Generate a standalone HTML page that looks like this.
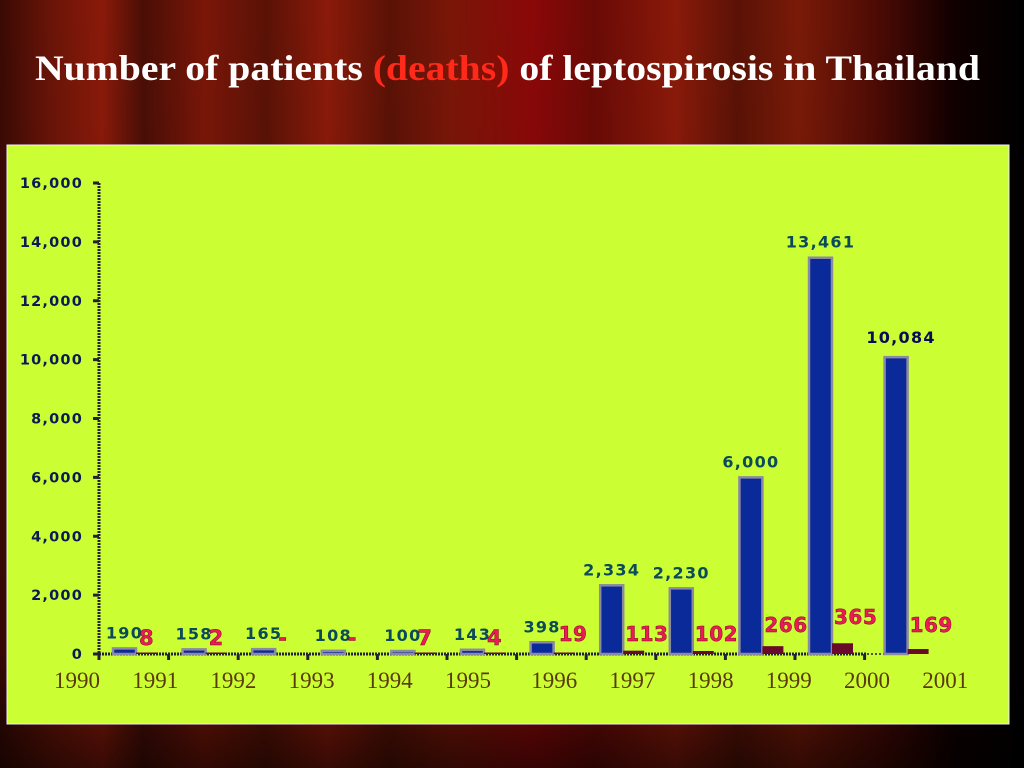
<!DOCTYPE html>
<html><head><meta charset="utf-8"><style>
html,body{margin:0;padding:0;width:1024px;height:768px;overflow:hidden;}
body{background:linear-gradient(90deg,#3a0a04 0%,#6a1408 5%,#8a1a0a 10%,#4a0e06 14%,#7a1608 20%,#5a1206 26%,#8a1a0a 32%,#5a1206 38%,#7a1608 44%,#8a0808 52%,#6a0a06 58%,#8a1a0a 66%,#5a1206 72%,#7a1a08 78%,#4a0a04 86%,#100 93%,#000 100%);font-family:"Liberation Serif",serif;}
</style></head><body>
<svg width="1024" height="768" xmlns="http://www.w3.org/2000/svg">
<defs>
<linearGradient id="bg" x1="0" y1="0" x2="0" y2="1">
<stop offset="0" stop-color="#000" stop-opacity="0"/><stop offset="0.85" stop-color="#000" stop-opacity="0.1"/><stop offset="1" stop-color="#000" stop-opacity="0.6"/>
</linearGradient>
</defs>
<rect x="0" y="0" width="1024" height="768" fill="url(#bg)"/>
<text x="35" y="80" textLength="945" lengthAdjust="spacingAndGlyphs" font-family="Liberation Serif,serif" font-weight="bold" font-size="36" fill="#fff">Number of patients <tspan fill="#ff2a1a">(deaths)</tspan> of leptospirosis in Thailand</text>
<rect x="7" y="145" width="1002" height="579" fill="#ccff33" stroke="#eef" stroke-width="1"/>
<g id="axes"></g>
<g id="marks"></g>
</svg>
<script>
const years=["1990","1991","1992","1993","1994","1995","1996","1997","1998","1999","2000","2001"];
const patients=[190,158,165,108,100,143,398,2334,2230,6000,13461,10084];
const patientLabels=["190","158","165","108","100","143","398","2,334","2,230","6,000","13,461","10,084"];
const deaths=[8,2,0,0,7,4,19,113,102,266,365,169];
const deathLabels=["8","2","-","-","7","4","19","113","102","266","365","169"];
const yTicks=[0,2000,4000,6000,8000,10000,12000,14000,16000];
const yTickLabels=["0","2,000","4,000","6,000","8,000","10,000","12,000","14,000","16,000"];

const NS="http://www.w3.org/2000/svg";
const y0=654,yTop=183,yMax=16000;
const yScale=v=>y0-(v/yMax)*(y0-yTop);
const xAxisStart=99,step=69.6;
const xGroup=i=>xAxisStart+step*i;
const yearX=i=>77+78.2*i;
function mk(tag,attrs,parent){const e=document.createElementNS(NS,tag);for(const k in attrs)e.setAttribute(k,attrs[k]);parent.appendChild(e);return e;}
const axes=document.getElementById('axes'),marks=document.getElementById('marks');

let yl=mk('line',{x1:99,y1:yTop,x2:99,y2:y0,stroke:'#223',"stroke-width":3,"stroke-dasharray":"2 1"},axes);


let xl=mk('line',{x1:99,y1:y0,x2:867,y2:y0,stroke:'#223',"stroke-width":3,"stroke-dasharray":"2 1"},axes);


let xd=mk('line',{x1:867,y1:y0,x2:910,y2:y0,stroke:'#223',"stroke-width":1.5,"stroke-dasharray":"2 2"},axes);



yTicks.forEach((v,i)=>{
 const y=yScale(v);
 const t=mk('line',{x1:93,y1:y,x2:99,y2:y,stroke:'#223',"stroke-width":3},axes);
 
 
 const l=mk('text',{x:83,y:y+5,"text-anchor":"end","font-family":"DejaVu Sans,sans-serif","font-weight":"bold","font-size":14.5,"letter-spacing":1.2,fill:"#0a1a55"},axes);
 l.textContent=yTickLabels[i];
 
 
});
for(let i=0;i<=11;i++){
 const x=xGroup(i);
 const t=mk('line',{x1:x,y1:y0,x2:x,y2:y0+6,stroke:'#223',"stroke-width":3},axes);
 
 
}
years.forEach((yr,i)=>{
 const l=mk('text',{x:yearX(i)+(i>=6?8:0),y:688,"text-anchor":"middle","font-family":"Liberation Serif,serif","font-size":23,fill:"#5a3a0a"},axes);
 l.textContent=yr;
 
 
});

years.forEach((yr,i)=>{
 const gx=xGroup(i)+14+(i==11?6:0);
 const pTop=yScale(patients[i]);
 const h=Math.max(y0-pTop,3);
 const b=mk('rect',{x:gx,y:y0-h,width:23,height:h,fill:'#0a2a9a',stroke:'#8a8aa0',"stroke-width":2.5},marks);
 
 
 const dTop=yScale(deaths[i]);
 if(deaths[i]>0){
  const dh=Math.max(y0-dTop,1.5);
  const d=mk('rect',{x:gx+23,y:y0-dh,width:21,height:dh,fill:'#6a0a2a'},marks);
  
  
 }
 const big=i==11;
 const pl=mk('text',{x:gx+11.5+(big?5:0),y:(big?yScale(patients[i])-14:pTop-10),"text-anchor":"middle","font-family":"DejaVu Sans,sans-serif","font-weight":"bold","font-size":16,"letter-spacing":1.3,fill:big?'#0a0a55':'#0a4a5a'},marks);
 pl.textContent=patientLabels[i];
 
 
 const dy=i<6?645:(i<9?641:(i==9?632:(i==10?624:632)));
 const dl=mk('text',{x:gx+(i<6?26:(i==6?28:25)),y:dy,"font-family":"DejaVu Sans,sans-serif","font-weight":"bold","font-size":i<6?21:20,"letter-spacing":0.5,fill:'#ee1a55',stroke:'#7a0a2a',"stroke-width":0.5},marks);
 dl.textContent=deathLabels[i];
 
 
});
</script>
</body></html>
